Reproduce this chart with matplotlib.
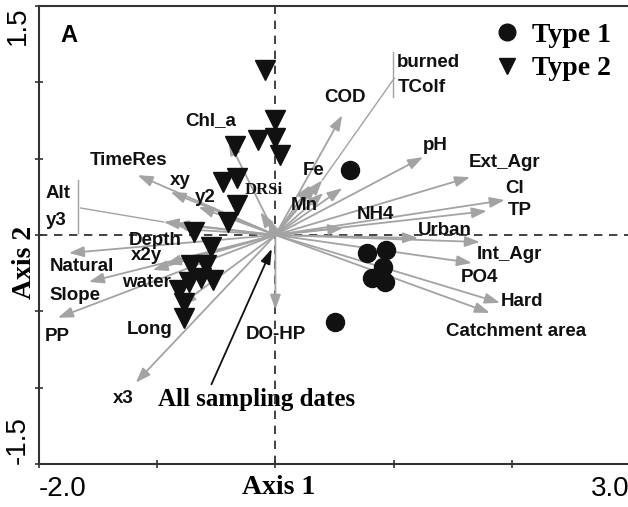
import matplotlib

matplotlib.use("Agg")
import matplotlib.pyplot as plt
from matplotlib.lines import Line2D
from matplotlib.transforms import IdentityTransform


SANS = ["Liberation Sans Narrow", "Liberation Sans", "DejaVu Sans"]
SERIF = ["Liberation Serif", "DejaVu Serif"]
ARROW_GREY = "#a3a3a3"
LABEL_SIZE = 13.5

# Site scores (axis 1, axis 2)
TYPE1_X = [0.633, 0.776, 0.937, 0.819, 0.928, 0.911, 0.506]
TYPE1_Y = [0.425, -0.118, -0.098, -0.281, -0.307, -0.209, -0.569]

TYPE2_X = [-0.084, 0.0, -0.143, 0.0, 0.042, -0.338, -0.447, -0.329, -0.321, -0.397,
           -0.692, -0.549, -0.717, -0.591, -0.633, -0.532, -0.819, -0.776, -0.776, -0.734]
TYPE2_Y = [1.078, 0.752, 0.621, 0.634, 0.523, 0.582, 0.346, 0.373, 0.196, 0.085,
           0.020, -0.078, -0.196, -0.196, -0.281, -0.294, -0.359, -0.444, -0.542, -0.307]

# Environmental variable vectors (arrow tips)
VAR_NAMES = ["COD", "burned", "TColf", "Fe", "Mn", "", "pH", "Ext_Agr", "Cl", "TP",
             "NH4", "Urban", "Int_Agr", "PO4", "Hard", "Catchment area", "DO-HP",
             "DRSi", "", "Chl_a", "TimeRes", "xy", "y2", "Alt", "y3", "Depth",
             "Natural", "x2y", "water", "Slope", "PP", "Long", "x3"]
VAR_X = [0.565, 0.397, 0.346, 0.295, 0.405, 0.565, 1.249, 1.646, 1.941, 1.789,
         0.574, 1.207, 1.730, 1.662, 1.899, 1.814, 0.0,
         -0.127, -0.060, -0.397, -1.165, -0.886, -0.650, -0.945, -0.861, -0.785,
         -1.747, -1.038, -0.928, -1.578, -1.840, -0.802, -1.181]
VAR_Y = [0.784, 0.359, 0.333, 0.327, 0.275, 0.307, 0.510, 0.379, 0.229, 0.157,
         0.046, -0.020, -0.046, -0.183, -0.444, -0.510, -0.490,
         0.150, 0.111, 0.621, 0.392, 0.281, 0.183, 0.085, 0.072, 0.039,
         -0.118, -0.229, -0.190, -0.307, -0.542, -0.458, -0.967]

X_TICKS = [-2.0, -1.0, 0.0, 1.0, 2.0, 3.0]
X_TICK_LABELS = ["-2.0", "", "", "", "", "3.0"]
Y_TICKS = [-1.5, -1.0, -0.5, 0.0, 0.5, 1.0, 1.5]
Y_TICK_LABELS = ["-1.5", "", "", "", "", "", "1.5"]

# label offsets from arrow tip, in pixels (y up)
LABEL_OFFSETS = {
    "COD": (3, 18), "Fe": (3, 15), "Mn": (-19, -12), "pH": (12, 12),
    "Ext_Agr": (35, 15), "Cl": (10, 12), "TP": (33, 1), "NH4": (32, 13),
    "Urban": (27, 8), "Int_Agr": (30, -12), "PO4": (8, -15), "Hard": (22, 1),
    "Catchment area": (26, -19), "DO-HP": (0, -25), "Chl_a": (-18, 20),
    "TimeRes": (-9, 15), "xy": (10, 12), "y2": (7, 10), "Depth": (-27, -11),
    "Natural": (13, -13), "x2y": (-6, 14), "water": (-19, -18),
    "Slope": (-14, -14), "PP": (-1, -19), "Long": (-31, -25), "x3": (-13, -16),
}
# grouped labels joined to their arrows by a bracket and a pointer line
GROUPS = {
    "burned": {"names": ["burned", "TColf"], "text": (75, [118, 93]),
               "bracket": (71, 128, 83), "pointer": (72, 102)},
    "Alt": {"names": ["Alt", "y3"], "text": (-118, [29, 2]),
            "bracket": (-86, 42, -11), "pointer": (-83, 14)},
}


def main():
    fig = plt.figure(figsize=(6.28, 5.07), dpi=100)
    ax = fig.add_axes([39 / 628, 43 / 507, 591 / 628, 458 / 507])
    ax.set_xlim(-2.0, 3.0)
    ax.set_ylim(-1.5, 1.5)

    ax.axhline(0, color="#222222", lw=1.2, ls=(0, (5, 4)), zorder=1)
    ax.axvline(0, color="#222222", lw=1.2, ls=(0, (5, 4)), zorder=1)

    tips = dict()
    for name, x, y in zip(VAR_NAMES, VAR_X, VAR_Y):
        ax.annotate(
            "", xy=(x, y), xytext=(0, 0),
            arrowprops=dict(arrowstyle="-|>,head_length=0.9,head_width=0.32",
                            color=ARROW_GREY, lw=1.3, shrinkA=0, shrinkB=0,
                            mutation_scale=10),
            zorder=2,
        )
        if name:
            tips[name] = (x, y)

    ax.plot(TYPE2_X, TYPE2_Y, ls="", marker="v", ms=14, color="#111111", zorder=3)
    ax.plot(TYPE1_X, TYPE1_Y, ls="", marker="o", ms=13, color="#111111", zorder=3)

    for name, (dx, dy) in LABEL_OFFSETS.items():
        ax.annotate(name, xy=tips[name], xytext=(dx, dy), textcoords="offset pixels",
                    ha="center", va="center", fontsize=LABEL_SIZE, fontweight="bold",
                    family=SANS, color="#111111", zorder=4)
    ax.annotate("DRSi", xy=tips["DRSi"], xytext=(3, 22), textcoords="offset pixels",
                ha="center", va="center", fontsize=12, fontweight="bold",
                family=SERIF, color="#111111", zorder=4)

    ident = IdentityTransform()
    for key, grp in GROUPS.items():
        px, py = ax.transData.transform(tips[key])
        tx, tys = grp["text"]
        for name, ty in zip(grp["names"], tys):
            ax.text(px + tx, py + ty, name, transform=ident, ha="left", va="center",
                    fontsize=LABEL_SIZE, fontweight="bold", family=SANS, color="#111111")
        bx, by0, by1 = grp["bracket"]
        ax.add_line(Line2D([px + bx, px + bx], [py + by0, py + by1], transform=ident,
                           color=ARROW_GREY, lw=1.0))
        lx, ly = grp["pointer"]
        ax.add_line(Line2D([px + lx, px], [py + ly, py], transform=ident,
                           color=ARROW_GREY, lw=1.0))

    ax.annotate("All sampling dates", xy=(-0.03, -0.09), xytext=(-0.99, -1.08),
                ha="left", va="center", fontsize=18, fontweight="bold", family=SERIF,
                arrowprops=dict(arrowstyle="-|>,head_length=0.9,head_width=0.3",
                                color="#111111", lw=1.3, shrinkA=1, shrinkB=0,
                                mutation_scale=10, relpos=(0.26, 1.0)),
                zorder=4)

    ax.text(0.05, 0.935, "A", transform=ax.transAxes, fontsize=17, fontweight="bold",
            family=["Liberation Sans", "DejaVu Sans"], ha="center", va="center")

    handles = [
        Line2D([], [], ls="", marker="o", ms=12, color="#111111"),
        Line2D([], [], ls="", marker="v", ms=12, color="#111111"),
    ]
    ax.legend(handles, ["Type 1", "Type 2"], loc="upper left",
              bbox_to_anchor=(0.745, 0.995), frameon=False, borderpad=0.0,
              handlelength=1.0, handletextpad=0.4, labelspacing=0.3,
              prop=dict(family=SERIF, weight="bold", size=20))

    ax.set_xticks(X_TICKS, X_TICK_LABELS)
    ax.set_yticks(Y_TICKS, Y_TICK_LABELS)
    ax.tick_params(direction="inout", length=6, width=1.2, color="#333333",
                   labelsize=20, pad=6)
    for lbl in ax.get_xticklabels():
        lbl.set_family(SANS)
    xl = ax.get_xticklabels()
    xl[0].set_ha("left")
    xl[-1].set_ha("right")
    for lbl in ax.get_yticklabels():
        lbl.set_family(SANS)
        lbl.set_rotation(90)
        lbl.set_ha("center")
    yl = ax.get_yticklabels()
    yl[0].set_va("bottom")
    yl[-1].set_va("top")
    ax.tick_params(axis="y", pad=12)

    ax.set_xlabel("Axis 1", family=SERIF, fontweight="bold", fontsize=20)
    ax.xaxis.set_label_coords(0.405, -0.052)
    ax.xaxis.label.set_va("center")
    ax.set_ylabel("Axis 2", family=SERIF, fontweight="bold", fontsize=20)
    ax.yaxis.set_label_coords(-0.025, 0.44)
    ax.yaxis.label.set_va("center")

    for side in ["left", "bottom", "top"]:
        ax.spines[side].set_linewidth(1.5)
        ax.spines[side].set_color("#333333")
    ax.spines["right"].set_visible(False)

    fig.savefig("out.png", dpi=100)
    plt.close(fig)


if __name__ == "__main__":
    main()
